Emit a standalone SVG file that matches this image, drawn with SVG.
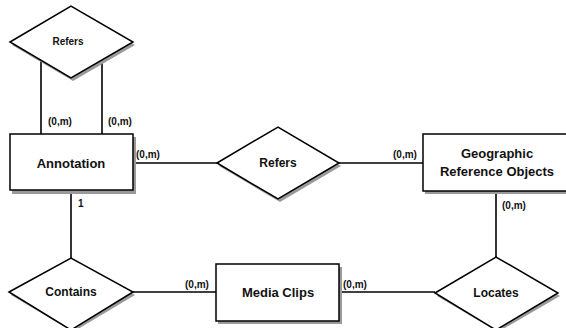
<svg xmlns="http://www.w3.org/2000/svg" width="566" height="328" viewBox="0 0 566 328">
<style>
.sh{fill:#9a9a9a;stroke:none}
.shape{fill:#fff;stroke:#000;stroke-width:1.5}
.ln{stroke:#000;stroke-width:1.6;fill:none}
text{font-family:"Liberation Sans",Arial,sans-serif;font-weight:bold;fill:#111}
.ent{font-size:13px;text-anchor:middle}
.rel{font-size:12px;text-anchor:middle}
.lab{font-size:10px}
</style>
<rect width="566" height="328" fill="#fff"/>
<g id="connectors">
<line class="ln" x1="41" y1="60" x2="41" y2="134"/>
<line class="ln" x1="102" y1="60" x2="102" y2="134"/>
<line class="ln" x1="133" y1="163" x2="217" y2="163"/>
<line class="ln" x1="339" y1="163" x2="423" y2="163"/>
<line class="ln" x1="496" y1="191" x2="496" y2="257"/>
<line class="ln" x1="71" y1="190" x2="71" y2="258"/>
<line class="ln" x1="133" y1="292" x2="216" y2="292"/>
<line class="ln" x1="339" y1="292" x2="435" y2="292"/>
<text class="lab" x="48" y="125">(0,m)</text>
<text class="lab" x="108" y="125">(0,m)</text>
<text class="lab" x="136" y="158">(0,m)</text>
<text class="lab" x="393" y="158">(0,m)</text>
<text class="lab" x="502" y="209">(0,m)</text>
<text class="lab" x="78" y="207">1</text>
<text class="lab" x="185" y="288">(0,m)</text>
<text class="lab" x="343" y="288">(0,m)</text>
</g>
<g id="refers-top">
<polygon class="sh" points="12,45 73,81 135,45 73,9"/>
<polygon class="shape" points="10,42 71,6 133,42 71,78"/>
<text x="68" y="45" font-size="10" text-anchor="middle">Refers</text>
</g>
<g id="annotation">
<rect class="sh" x="12" y="137" width="124" height="57"/>
<rect class="shape" x="10" y="134" width="123" height="56"/>
<text class="ent" x="71" y="168">Annotation</text>
</g>
<g id="refers-mid">
<polygon class="sh" points="219,166 280,202 341,166 280,130"/>
<polygon class="shape" points="217,163 278,127 339,163 278,199"/>
<text class="rel" x="278" y="167">Refers</text>
</g>
<g id="geographic">
<rect class="sh" x="425" y="137" width="145" height="57"/>
<rect class="shape" x="423" y="134" width="150" height="57"/>
<text class="ent" x="497" y="158">Geographic</text>
<text class="ent" x="497" y="176">Reference Objects</text>
</g>
<g id="contains">
<polygon class="sh" points="11,295 73,332 135,295 73,261"/>
<polygon class="shape" points="9,292 71,258 133,292 71,330"/>
<text class="rel" x="71" y="296">Contains</text>
</g>
<g id="media-clips">
<rect class="sh" x="218" y="267" width="124" height="57"/>
<rect class="shape" x="216" y="264" width="123" height="57"/>
<text class="ent" x="278" y="297">Media Clips</text>
</g>
<g id="locates">
<polygon class="sh" points="437,296 498,332 560,296 498,260"/>
<polygon class="shape" points="435,293 496,257 558,293 496,330"/>
<text class="rel" x="496" y="297">Locates</text>
</g>
</svg>
